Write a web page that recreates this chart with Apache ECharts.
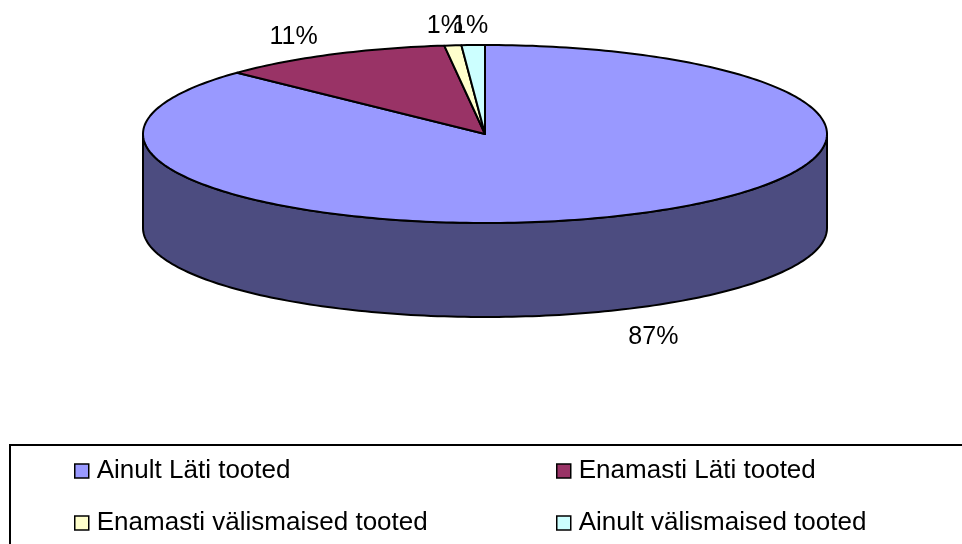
<!DOCTYPE html>
<html>
<head>
<meta charset="utf-8">
<script src="https://cdn.jsdelivr.net/npm/echarts@6/dist/echarts.min.js"></script>
<style>
    html, body { margin: 0; padding: 0; background: #fff; }
    #main { width: 962px; height: 544px; }
</style>
</head>
<body>
<div id="main"></div>
<script>
var names = ['Ainult Läti tooted', 'Enamasti Läti tooted', 'Enamasti välismaised tooted', 'Ainult välismaised tooted'];
var values = [87.1, 11.0, 0.8, 1.1];
var topColors = ['#9999FF', '#993366', '#FFFFCC', '#CCFFFF'];
var sideColors = ['#4C4C80', '#4D1A33', '#808066', '#668080'];

// pie geometry (pixels)
var CX = 485, CY = 134, RX = 342, RY = 89, DEPTH = 94;
var FONT = '25px "Liberation Sans", Arial, sans-serif';

var total = 0;
for (var t = 0; t < values.length; t++) total += values[t];

// angle measured clockwise from 12 o'clock
function pt(a, dy) {
    return [CX + RX * Math.sin(a), CY - RY * Math.cos(a) + dy];
}
function arc(a0, a1, dy) {
    var n = Math.max(2, Math.ceil(Math.abs(a1 - a0) / 0.02));
    var out = [];
    for (var k = 0; k <= n; k++) out.push(pt(a0 + (a1 - a0) * k / n, dy));
    return out;
}

function renderSlice(params, api) {
    var i = params.seriesIndex;
    var before = 0;
    for (var j = 0; j < i; j++) before += values[j];
    var v = api.value(0);
    var a0 = before / total * 2 * Math.PI;
    var a1 = (before + v) / total * 2 * Math.PI;
    var children = [];

    // front wall (only the lower half of the ellipse is visible)
    var s = Math.max(a0, Math.PI / 2), e = Math.min(a1, 1.5 * Math.PI);
    if (e > s) {
        children.push({
            type: 'polygon', z2: 1,
            shape: { points: arc(s, e, 0).concat(arc(e, s, DEPTH)) },
            style: { fill: sideColors[i], stroke: '#000', lineWidth: 2, lineJoin: 'round' }
        });
    }
    // top face
    children.push({
        type: 'polygon', z2: 10,
        shape: { points: [[CX, CY]].concat(arc(a0, a1, 0)) },
        style: { fill: topColors[i], stroke: '#000', lineWidth: 2, lineJoin: 'round' }
    });
    // percent label
    var m = (a0 + a1) / 2, sn = Math.sin(m), cs = Math.cos(m);
    var p = pt(m, cs < 0 ? DEPTH : 0);
    children.push({
        type: 'text', z2: 20,
        style: {
            text: Math.round(v / total * 100) + '%',
            x: p[0] + sn * 85,
            y: p[1] - cs * 19 + (cs < 0 ? 10 : 0),
            align: 'center', verticalAlign: 'middle',
            font: FONT, fill: '#000'
        }
    });
    return { type: 'group', children: children };
}

var myChart = echarts.init(document.getElementById('main'));

var legendCommon = {
    orient: 'vertical',
    top: 458,
    padding: 0,
    itemGap: 26,
    itemWidth: 14,
    itemHeight: 14,
    icon: 'rect',
    selectedMode: false,
    itemStyle: { borderColor: '#000', borderWidth: 1.5 },
    textStyle: { fontSize: 26, fontFamily: '"Liberation Sans", Arial, sans-serif', color: '#000', lineHeight: 26, padding: [0, 0, 0, 3] }
};

var series = [];
for (var i = 0; i < names.length; i++) {
    series.push({
        type: 'custom',
        name: names[i],
        coordinateSystem: 'none',
        renderItem: renderSlice,
        data: [values[i]],
        itemStyle: { color: topColors[i] },
        silent: true,
        animation: false
    });
}

option = {
    backgroundColor: '#fff',
    animation: false,
    legend: [
        echarts.util.merge({ left: 74, data: [names[0], names[2]] }, legendCommon),
        echarts.util.merge({ left: 556, data: [names[1], names[3]] }, legendCommon)
    ],
    graphic: [{
        type: 'rect',
        shape: { x: 10, y: 445, width: 1000, height: 200 },
        style: { fill: 'none', stroke: '#000', lineWidth: 2 }
    }],
    series: series
};
myChart.setOption(option);
</script>
</body>
</html>
